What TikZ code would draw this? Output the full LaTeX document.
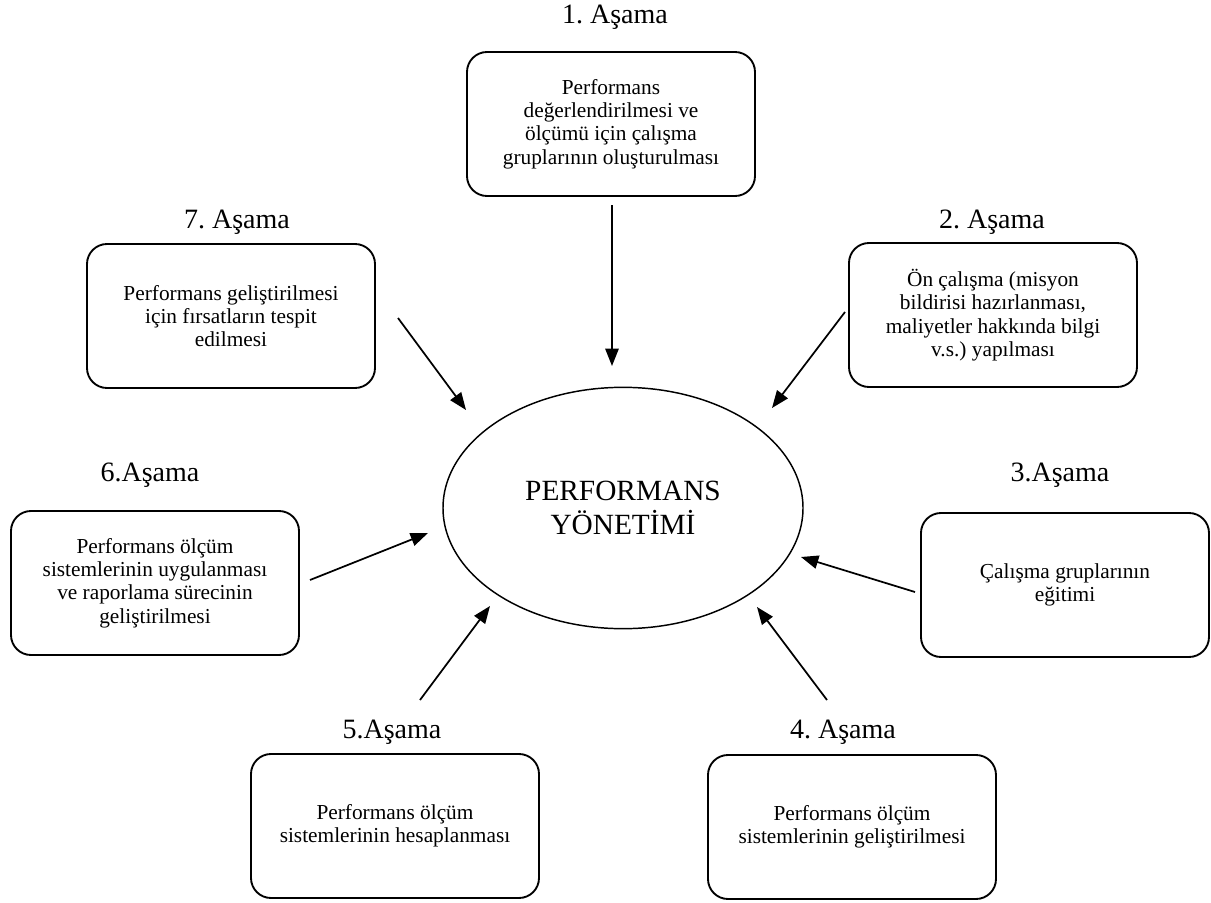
\documentclass[tikz,border=0pt]{standalone}
\usepackage{fontspec}
\setmainfont{Liberation Serif}
\usepackage{tikz}
\usetikzlibrary{arrows.meta,shapes.geometric}
\frenchspacing
\newcommand{\stagefont}{\fontsize{21}{24}\selectfont}
\newcommand{\boxfont}{\fontsize{16}{17.5}\selectfont}
\newcommand{\hubfont}{\fontsize{22}{26}\selectfont}

\begin{document}
\begin{tikzpicture}[
  x=0.75pt, y=-0.75pt,
  stagebox/.style={draw, rounded corners=15pt, line width=1.4pt, align=center, minimum width=216pt, minimum height=108pt, inner sep=4pt, font=\boxfont},
  lbl/.style={inner sep=0pt, font=\stagefont},
  hub/.style={ellipse, draw, line width=1.1pt, minimum width=270pt, minimum height=181pt, align=center, font=\hubfont},
  arr/.style={-{Triangle[length=13pt, width=10pt]}, line width=1.3pt},
]
\useasboundingbox (0,0) rectangle (1211,903);

% centre
\node[hub] (pm) at (623,508) {PERFORMANS\\YÖNETİMİ};

% stages, clockwise from the top
\node[lbl] (l1) at (615,17) {1. Aşama};
\node[stagebox] (b1) at (611,124) {Performans\\değerlendirilmesi ve\\ölçümü için çalışma\\gruplarının oluşturulması};

\node[lbl] (l2) at (992,222) {2. Aşama};
\node[stagebox] (b2) at (993,315) {Ön çalışma (misyon\\bildirisi hazırlanması,\\maliyetler hakkında bilgi\\v.s.) yapılması};

\node[lbl] (l3) at (1060,475) {3.Aşama};
\node[stagebox] (b3) at (1065,585) {Çalışma gruplarının\\eğitimi};

\node[lbl] (l4) at (843,732) {4. Aşama};
\node[stagebox] (b4) at (852,827) {Performans ölçüm\\sistemlerinin geliştirilmesi};

\node[lbl] (l5) at (392,732) {5.Aşama};
\node[stagebox] (b5) at (395,826) {Performans ölçüm\\sistemlerinin hesaplanması};

\node[lbl] (l6) at (150,475) {6.Aşama};
\node[stagebox] (b6) at (155,583) {Performans ölçüm\\sistemlerinin uygulanması\\ve raporlama sürecinin\\geliştirilmesi};

\node[lbl] (l7) at (237,222) {7. Aşama};
\node[stagebox] (b7) at (231,316) {Performans geliştirilmesi\\için fırsatların tespit\\edilmesi};

% free arrow ends (the arrows touch neither box nor ellipse)
\coordinate (s1) at (612,205);  \coordinate (t1) at (612,366);
\coordinate (s2) at (845,312);  \coordinate (t2) at (772,408);
\coordinate (s3) at (915,592);  \coordinate (t3) at (801,557);
\coordinate (s4) at (827,700);  \coordinate (t4) at (757,607);
\coordinate (s5) at (420,700);  \coordinate (t5) at (490,606);
\coordinate (s6) at (310,580);  \coordinate (t6) at (428,533);
\coordinate (s7) at (398,318);  \coordinate (t7) at (466,410);

\foreach \i in {1,...,7}
  \draw[arr] (s\i) -- (t\i);
\end{tikzpicture}
\end{document}
